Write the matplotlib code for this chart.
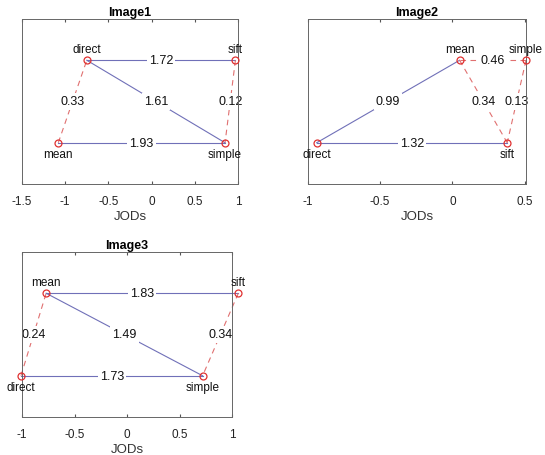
import matplotlib.pyplot as plt

plt.rcParams['font.family'] = ['Liberation Sans', 'DejaVu Sans']

# JOD scores per condition, one dict per image
names = ['Image1', 'Image2', 'Image3']
jods = [
    {'mean': -1.08, 'direct': -0.75, 'simple': 0.85, 'sift': 0.97},
    {'direct': -0.94, 'mean': 0.05, 'sift': 0.38, 'simple': 0.51},
    {'direct': -1.01, 'mean': -0.77, 'simple': 0.72, 'sift': 1.06},
]
# row of each condition (1 = top, 0 = bottom)
rows = [
    {'mean': 0, 'direct': 1, 'simple': 0, 'sift': 1},
    {'direct': 0, 'mean': 1, 'sift': 0, 'simple': 1},
    {'direct': 0, 'mean': 1, 'simple': 0, 'sift': 1},
]
# edges: (a, b, distance label, significant)
edges = [
    [('direct', 'sift', '1.72', True), ('direct', 'simple', '1.61', True),
     ('mean', 'simple', '1.93', True), ('mean', 'direct', '0.33', False),
     ('sift', 'simple', '0.12', False)],
    [('direct', 'mean', '0.99', True), ('direct', 'sift', '1.32', True),
     ('mean', 'simple', '0.46', False), ('mean', 'sift', '0.34', False),
     ('simple', 'sift', '0.13', False)],
    [('mean', 'sift', '1.83', True), ('mean', 'simple', '1.49', True),
     ('direct', 'simple', '1.73', True), ('direct', 'mean', '0.24', False),
     ('sift', 'simple', '0.34', False)],
]
xlims = [(-1.5, 1.0), (-1.0, 0.51), (-1.0, 1.0)]
xticks = [[-1.5, -1, -0.5, 0, 0.5, 1], [-1, -0.5, 0, 0.5], [-1, -0.5, 0, 0.5, 1]]

W, H = 545, 456
boxes = [(22, 238, 20, 185), (308, 526, 20, 185), (22, 232, 253, 418)]

fig = plt.figure(figsize=(W / 100, H / 100), dpi=100)

blue = '#7070b8'
red = '#e07070'

for i in range(3):
    l, r, t, b = boxes[i]
    ax = fig.add_axes([l / W, (H - b) / H, (r - l) / W, (b - t) / H])
    pos = jods[i]
    row = rows[i]
    for a, c, lab, sig in edges[i]:
        xs = [pos[a], pos[c]]
        ys = [row[a], row[c]]
        if sig:
            ax.plot(xs, ys, '-', color=blue, lw=0.8, clip_on=False, zorder=1)
        else:
            ax.plot(xs, ys, '--', color=red, lw=0.8, dashes=(5, 4), clip_on=False, zorder=1)
        ax.text(sum(xs) / 2, sum(ys) / 2, lab, ha='center', va='center', fontsize=9,
                color='#111111', bbox=dict(facecolor='white', edgecolor='none', pad=1.5), zorder=2)
    for k in pos:
        ax.plot(pos[k], row[k], 'o', mfc='none', mec='#e03030', ms=5, mew=0.9,
                clip_on=False, zorder=3)
        if row[k] == 1:
            ax.text(pos[k], row[k] + 0.06, k, ha='center', va='bottom', fontsize=8.5, color='#111111')
        else:
            ax.text(pos[k], row[k] - 0.06, k, ha='center', va='top', fontsize=8.5, color='#111111')
    ax.set_xlim(*xlims[i])
    ax.set_ylim(-0.5, 1.5)
    ax.set_xticks(xticks[i])
    ax.set_xticklabels([('%g' % v) for v in xticks[i]])
    ax.set_yticks([])
    ax.tick_params(axis='x', direction='in', length=2, labelsize=8.5, colors='#555555',
                   labelcolor='#222222', top=True, pad=8)
    for s in ax.spines.values():
        s.set_color('#666666')
        s.set_linewidth(0.7)
    ax.set_title(names[i], fontsize=9, fontweight='bold', pad=3)
    ax.set_xlabel('JODs', fontsize=9.5, color='#333333', labelpad=2)

plt.savefig('out.png', dpi=100)
